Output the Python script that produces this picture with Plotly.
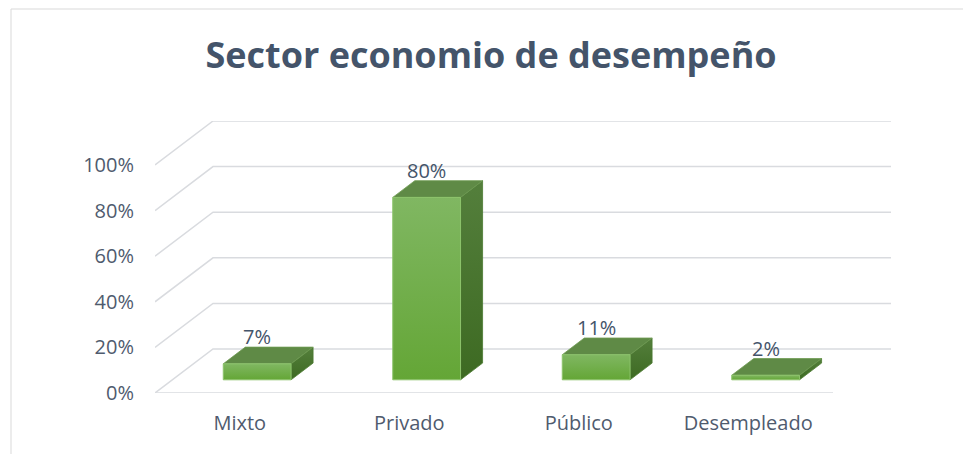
import plotly.graph_objects as go

# ---- data ----
categories = ["Mixto", "Privado", "Público", "Desempleado"]
values = [7, 80, 11, 2]
tick_values = [0, 20, 40, 60, 80, 100]
tick_labels = ["0%", "20%", "40%", "60%", "80%", "100%"]
title_text = "Sector economio de desempeño"

# ---- geometry (oblique 3D projection in data units) ----
W, H = 963, 454
ML, MR, MT, MB = 155, 72, 121, 61
px_per_x = 169.5
px_per_y = 2.28
DX = 58 / px_per_x          # full depth offset in x units
DY = 44 / px_per_y          # full depth offset in y units
F0 = 0.30                    # bar front depth fraction
BD = 0.38                    # bar depth fraction
BW = 0.40                    # bar width (slot units)
x0 = -0.5
x1 = len(categories) - 0.5
xr = [x0, x1 + DX]
yr = [0, tick_values[-1] + DY]

GRID = "#D9DBDF"
TXT = "#4F5B6E"
TITLE = "#44546A"

fig = go.Figure()

# floor / wall gridlines
for v in tick_values:
    fig.add_trace(go.Scatter(
        x=[x0, x0 + DX, x1 + DX], y=[v, v + DY, v + DY],
        mode="lines", line=dict(color=GRID, width=1.5),
        hoverinfo="skip", showlegend=False, cliponaxis=False))
fig.add_trace(go.Scatter(
    x=[x0, x1], y=[0, 0], mode="lines", line=dict(color=GRID, width=1.5),
    hoverinfo="skip", showlegend=False, cliponaxis=False))

# bars
for i, (c, v) in enumerate(zip(categories, values)):
    xl = i + F0 * DX - BW / 2
    xrr = i + F0 * DX + BW / 2
    yb = F0 * DY
    yt = v + F0 * DY
    bx, by = BD * DX, BD * DY
    # side face
    fig.add_trace(go.Scatter(
        x=[xrr, xrr + bx, xrr + bx, xrr, xrr], y=[yb, yb + by, yt + by, yt, yb],
        fill="toself", mode="lines", line=dict(color="#4A7A30", width=0.8),
        fillgradient=dict(type="vertical",
                          colorscale=[[0, "#3D6A22"], [1, "#547F3C"]]),
        hoverinfo="skip", showlegend=False, cliponaxis=False))
    # top face
    fig.add_trace(go.Scatter(
        x=[xl, xrr, xrr + bx, xl + bx, xl], y=[yt, yt, yt + by, yt + by, yt],
        fill="toself", mode="lines", line=dict(color="#6E9A52", width=0.8),
        fillcolor="#5F8A46",
        hoverinfo="skip", showlegend=False, cliponaxis=False))
    # front face
    fig.add_trace(go.Scatter(
        x=[xl, xrr, xrr, xl, xl], y=[yb, yb, yt, yt, yb],
        fill="toself", mode="lines", line=dict(color="#8DC46C", width=1),
        fillgradient=dict(type="vertical",
                          colorscale=[[0, "#64A636"], [1, "#80B762"]]),
        hoverinfo="skip", showlegend=False, cliponaxis=False))
    # data label
    fig.add_annotation(
        x=i + F0 * DX, y=v + (F0 + BD) * DY, text=f"{v}%",
        showarrow=False, xanchor="center", yanchor="bottom", yshift=-5,
        font=dict(family="Open Sans", size=20, color=TITLE))

# border of the chart area
pw = W - ML - MR
ph = H - MT - MB
fig.add_shape(type="rect", xref="paper", yref="paper",
              x0=(11 - ML) / pw, x1=(W + 10 - ML) / pw,
              y0=-(MB + 10) / ph, y1=1 + (MT - 9) / ph,
              line=dict(color="#D9D9D9", width=1), layer="below")

fig.update_layout(
    width=W, height=H,
    margin=dict(l=ML, r=MR, t=MT, b=MB),
    paper_bgcolor="white", plot_bgcolor="white",
    title=dict(text=f"<b>{title_text}</b>", xref="container", x=491 / W,
               xanchor="center", yref="container", y=1 - 55 / H, yanchor="middle",
               font=dict(family="Open Sans", size=36, color=TITLE)),
    xaxis=dict(range=xr, tickvals=list(range(len(categories))), ticktext=categories,
               showgrid=False, zeroline=False, showline=False, ticks="",
               ticklabelstandoff=16,
               tickfont=dict(family="Open Sans", size=20, color=TXT), fixedrange=True),
    yaxis=dict(range=yr, tickvals=tick_values, ticktext=tick_labels,
               showgrid=False, zeroline=False, showline=False, ticks="",
               ticklabelstandoff=20,
               tickfont=dict(family="Open Sans", size=20, color=TXT), fixedrange=True),
    showlegend=False,
)

fig.write_html("out.html", config={"displayModeBar": False},
               post_script="document.body.style.margin='0';")
